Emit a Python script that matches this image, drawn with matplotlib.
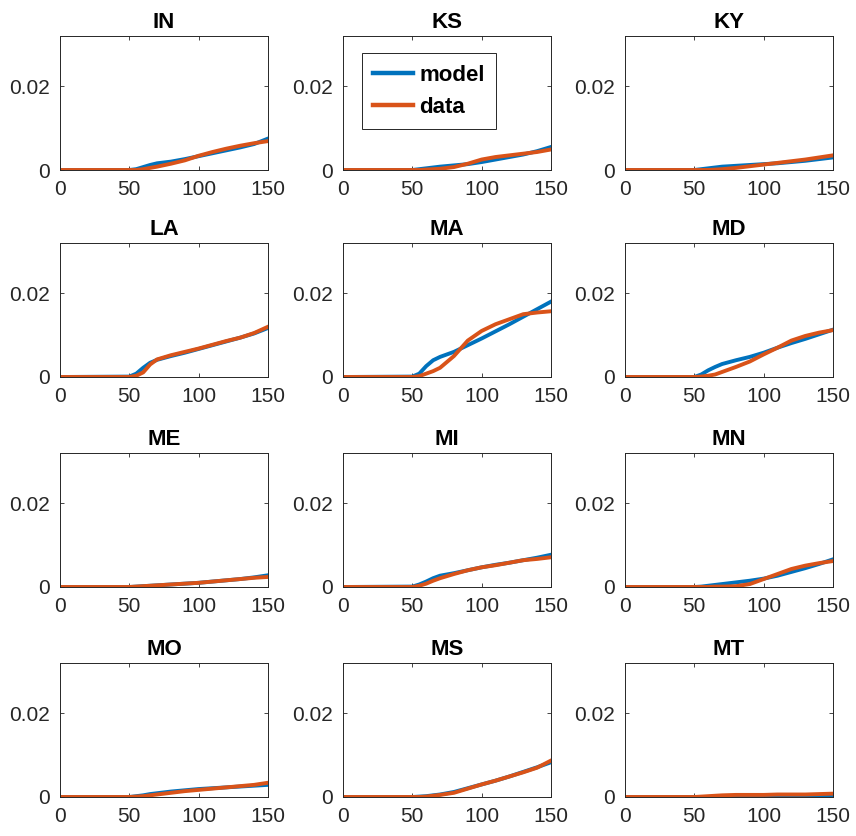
import numpy as np
import matplotlib
matplotlib.use("Agg")
import matplotlib.pyplot as plt

plt.rcParams['font.family'] = ['Liberation Sans', 'DejaVu Sans']

# time axis (days) shared by every state
days = [0, 50, 55, 60, 65, 70, 80, 90, 100, 110, 120, 130, 140, 150]

states = ["IN", "KS", "KY", "LA", "MA", "MD", "ME", "MI", "MN", "MO", "MS", "MT"]

model_IN = [0, 0, 0.0002, 0.0007, 0.0012, 0.0016, 0.0020, 0.0026, 0.0033, 0.0040, 0.0047, 0.0054, 0.0062, 0.0075]
data_IN = [0, 0, 0, 0.0002, 0.0005, 0.0008, 0.0015, 0.0023, 0.0034, 0.0043, 0.0051, 0.0058, 0.0064, 0.0069]
model_KS = [0, 0, 0.0002, 0.0004, 0.0006, 0.0008, 0.0011, 0.0014, 0.0019, 0.0025, 0.0031, 0.0037, 0.0045, 0.0055]
data_KS = [0, 0, 0, 0.0001, 0.0002, 0.0003, 0.0007, 0.0015, 0.0025, 0.0031, 0.0035, 0.0039, 0.0043, 0.0049]
model_KY = [0, 0, 0.0002, 0.0004, 0.0006, 0.0008, 0.0010, 0.0012, 0.0014, 0.0016, 0.0019, 0.0022, 0.0026, 0.0030]
data_KY = [0, 0, 0, 0, 0.0001, 0.0002, 0.0005, 0.0009, 0.0013, 0.0017, 0.0021, 0.0025, 0.0030, 0.0035]
model_LA = [0, 0.0001, 0.0008, 0.0022, 0.0034, 0.0041, 0.0050, 0.0058, 0.0067, 0.0076, 0.0085, 0.0094, 0.0104, 0.0117]
data_LA = [0, 0, 0.0003, 0.0011, 0.0030, 0.0042, 0.0052, 0.0060, 0.0068, 0.0077, 0.0086, 0.0094, 0.0105, 0.0120]
model_MA = [0, 0.0001, 0.0008, 0.0026, 0.0040, 0.0048, 0.0060, 0.0076, 0.0092, 0.0109, 0.0126, 0.0144, 0.0162, 0.0180]
data_MA = [0, 0, 0.0002, 0.0008, 0.0014, 0.0022, 0.0050, 0.0087, 0.0110, 0.0126, 0.0138, 0.0150, 0.0154, 0.0157]
model_MD = [0, 0, 0.0006, 0.0016, 0.0024, 0.0031, 0.0040, 0.0048, 0.0058, 0.0070, 0.0081, 0.0091, 0.0102, 0.0113]
data_MD = [0, 0, 0.0001, 0.0003, 0.0006, 0.0012, 0.0024, 0.0037, 0.0054, 0.0070, 0.0087, 0.0098, 0.0106, 0.0112]
model_ME = [0, 0, 0.0001, 0.0002, 0.0003, 0.0004, 0.0006, 0.0008, 0.0010, 0.0013, 0.0016, 0.0019, 0.0023, 0.0028]
data_ME = [0, 0, 0.0001, 0.0002, 0.0003, 0.0004, 0.0006, 0.0008, 0.0010, 0.0013, 0.0016, 0.0019, 0.0022, 0.0024]
model_MI = [0, 0.0001, 0.0006, 0.0013, 0.0021, 0.0027, 0.0033, 0.0040, 0.0047, 0.0053, 0.0058, 0.0064, 0.0070, 0.0077]
data_MI = [0, 0, 0.0003, 0.0008, 0.0015, 0.0021, 0.0031, 0.0040, 0.0047, 0.0052, 0.0058, 0.0064, 0.0067, 0.0071]
model_MN = [0, 0, 0.0001, 0.0003, 0.0005, 0.0007, 0.0011, 0.0015, 0.0020, 0.0027, 0.0036, 0.0045, 0.0055, 0.0066]
data_MN = [0, 0, 0, 0, 0.0001, 0.0001, 0.0002, 0.0007, 0.0019, 0.0031, 0.0043, 0.0051, 0.0057, 0.0062]
model_MO = [0, 0, 0.0002, 0.0004, 0.0007, 0.0009, 0.0013, 0.0016, 0.0019, 0.0021, 0.0023, 0.0025, 0.0027, 0.0029]
data_MO = [0, 0, 0.0001, 0.0002, 0.0004, 0.0006, 0.0010, 0.0014, 0.0017, 0.0020, 0.0023, 0.0026, 0.0029, 0.0034]
model_MS = [0, 0, 0.0001, 0.0002, 0.0004, 0.0006, 0.0012, 0.0021, 0.0030, 0.0039, 0.0049, 0.0060, 0.0071, 0.0083]
data_MS = [0, 0, 0, 0.0001, 0.0003, 0.0005, 0.0010, 0.0020, 0.0030, 0.0039, 0.0049, 0.0059, 0.0070, 0.0087]
model_MT = [0, 0, 0, 0, 0.00005, 0.0001, 0.0001, 0.0001, 0.0001, 0.00015, 0.00015, 0.00015, 0.0002, 0.0002]
data_MT = [0, 0, 0.0001, 0.0002, 0.0003, 0.0004, 0.0005, 0.0005, 0.0005, 0.0006, 0.0006, 0.0006, 0.0007, 0.0008]

model = [model_IN, model_KS, model_KY, model_LA, model_MA, model_MD,
         model_ME, model_MI, model_MN, model_MO, model_MS, model_MT]
data = [data_IN, data_KS, data_KY, data_LA, data_MA, data_MD,
        data_ME, data_MI, data_MN, data_MO, data_MS, data_MT]

blue = '#0072BD'
orange = '#D95319'
dark = '#262626'

W, H = 856, 836
fig = plt.figure(figsize=(W / 100, H / 100), dpi=100)

# panel boxes in pixels
col_left = [60, 343, 625]
col_width = 208
row_top = [36, 243, 453, 663]
row_height = 134

for i, st in enumerate(states):
    r, c = divmod(i, 3)
    ax = fig.add_axes([col_left[c] / W, 1 - (row_top[r] + row_height) / H,
                       col_width / W, row_height / H])
    ax.plot(days, model[i], color=blue, lw=2.8, label='model')
    ax.plot(days, data[i], color=orange, lw=2.8, label='data')
    ax.set_xlim(0, 150)
    ax.set_ylim(0, 0.032)
    ax.set_xticks([0, 50, 100, 150])
    ax.set_yticks([0, 0.02])
    ax.set_yticklabels(['0', '0.02'])
    ax.tick_params(direction='in', top=True, right=True, length=3,
                   width=0.6, colors=dark, labelsize=15, pad=7)
    for sp in ax.spines.values():
        sp.set_color(dark)
        sp.set_linewidth(0.7)
    ax.set_title(st, fontsize=16, fontweight='bold', pad=6)
    if st == 'KS':
        leg = ax.legend(loc='upper left', bbox_to_anchor=(0.09, 0.87),
                        borderaxespad=0, prop={'size': 16, 'weight': 'bold'},
                        fancybox=False, edgecolor=dark, handlelength=1.8,
                        handletextpad=0.3, borderpad=0.5, labelspacing=0.5,
                        framealpha=1)
        leg.get_frame().set_linewidth(0.7)
        for line in leg.get_lines():
            line.set_linewidth(3.2)

fig.savefig('out.png', dpi=100)
